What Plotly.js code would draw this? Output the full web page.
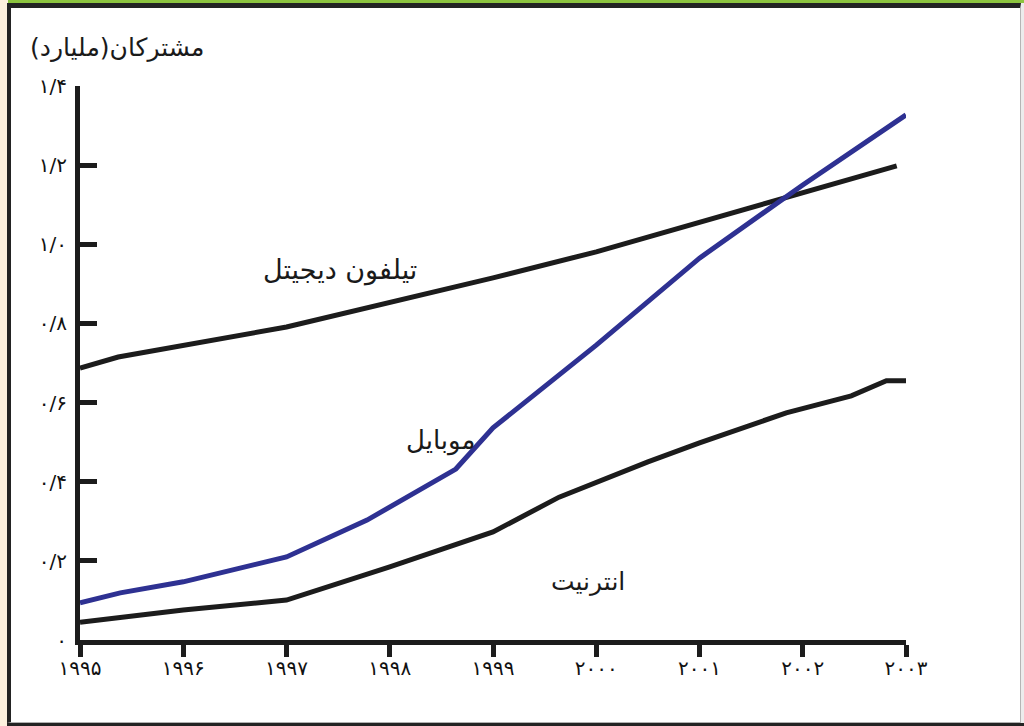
<!DOCTYPE html>
<html>
<head>
<meta charset="utf-8">
<script src="https://cdn.plot.ly/plotly-3.0.1.min.js"></script>
<style>
  html, body { margin:0; padding:0; }
  body { width:1024px; height:726px; position:relative; overflow:hidden; background:#fdf1de; }
  #green { position:absolute; left:8px; top:0; width:1016px; height:3px; background:#8cc43f; }
  #box { position:absolute; left:7px; top:3px; width:1014px; height:720px; box-sizing:border-box;
         background:#ffffff; border-top:5px solid #232323; border-left:4px solid #232323;
         border-right:1px solid #b5b5b5; border-bottom:1px solid #b0b0b0; }
  #rightstrip { position:absolute; left:1021px; top:3px; width:3px; height:720px; background:#ececec; }
  #bottom { position:absolute; left:7px; top:723px; width:1017px; height:3px; background:#232323; }
  #chart { position:absolute; left:0; top:0; width:1024px; height:726px; }
</style>
</head>
<body>
<div id="green"></div>
<div id="box"></div>
<div id="rightstrip"></div>
<div id="bottom"></div>
<div id="chart"></div>
<script>
// Digital telephone subscribers (billions)
const telYears = [1995, 1995.37, 1997, 1998, 1999, 2000, 2001, 2002, 2002.91];
const telValues = [0.687, 0.715, 0.791, 0.852, 0.915, 0.981, 1.056, 1.132, 1.198];
// Mobile subscribers
const mobYears = [1995, 1995.39, 1996, 1997, 1997.78, 1998.64, 1999, 2000, 2001, 2002, 2003];
const mobValues = [0.094, 0.119, 0.147, 0.210, 0.303, 0.432, 0.536, 0.745, 0.965, 1.15, 1.327];
// Internet subscribers
const netYears = [1995, 1996, 1997, 1998, 1999, 1999.64, 2000.5, 2001, 2001.84, 2002.47, 2002.81, 2003];
const netValues = [0.045, 0.076, 0.101, 0.185, 0.273, 0.361, 0.45, 0.498, 0.574, 0.617, 0.655, 0.655];

const xTickVals = [1995, 1996, 1997, 1998, 1999, 2000, 2001, 2002, 2003];
const xTickText = ['۱۹۹۵', '۱۹۹۶', '۱۹۹۷', '۱۹۹۸', '۱۹۹۹', '۲۰۰۰', '۲۰۰۱', '۲۰۰۲', '۲۰۰۳'];
const yTickVals = [0, 0.2, 0.4, 0.6, 0.8, 1.0, 1.2, 1.4];
const yTickText = ['۰', '۰/۲', '۰/۴', '۰/۶', '۰/۸', '۱/۰', '۱/۲', '۱/۴'];

const titleText = 'مشترکان(ملیارد)';
const telLabel = 'تیلفون دیجیتل';
const mobLabel = 'موبایل';
const netLabel = 'انترنیت';

const black = '#1c1c1c';
const blue = '#2e3192';
const arFont = 'DejaVu Sans, Noto Sans, sans-serif';

const traces = [
  { x: telYears, y: telValues, mode: 'lines', line: { color: black, width: 5 }, hoverinfo: 'skip' },
  { x: mobYears, y: mobValues, mode: 'lines', line: { color: blue, width: 5 }, hoverinfo: 'skip' },
  { x: netYears, y: netValues, mode: 'lines', line: { color: black, width: 5 }, hoverinfo: 'skip' }
];

const layout = {
  width: 1024, height: 726,
  margin: { l: 80, r: 118, t: 86, b: 86 },
  paper_bgcolor: 'rgba(0,0,0,0)',
  plot_bgcolor: 'rgba(0,0,0,0)',
  showlegend: false,
  hovermode: false,
  title: {
    text: titleText, xref: 'container', yref: 'container',
    x: 30 / 1024, xanchor: 'left', y: 1 - 47 / 726, yanchor: 'middle',
    font: { family: arFont, size: 25, color: '#1a1a1a' }
  },
  xaxis: {
    range: [1995, 2003], showgrid: false, zeroline: false,
    showline: true, linecolor: black, linewidth: 5,
    ticks: 'outside', ticklen: 12, tickwidth: 5, tickcolor: black,
    tickvals: xTickVals, ticktext: xTickText, ticklabelstandoff: -6,
    tickfont: { family: arFont, size: 20, color: '#111111' },
    fixedrange: true
  },
  xaxis2: {
    range: [1995, 2003], overlaying: 'x', anchor: 'y', side: 'bottom',
    showgrid: false, zeroline: false, showline: false,
    ticks: 'inside', ticklen: 14, tickwidth: 5, tickcolor: black,
    tickvals: xTickVals, showticklabels: false, fixedrange: true
  },
  yaxis: {
    range: [0, 1.4], showgrid: false, zeroline: false,
    showline: true, linecolor: black, linewidth: 5,
    ticks: 'inside', ticklen: 17, tickwidth: 5, tickcolor: black,
    tickvals: yTickVals, ticktext: yTickText, ticklabelstandoff: 4,
    tickfont: { family: arFont, size: 20, color: '#111111' },
    fixedrange: true
  },
  annotations: [
    { x: 1997.52, y: 0.935, xref: 'x', yref: 'y', text: telLabel, showarrow: false,
      font: { family: arFont, size: 27, color: '#1a1a1a' } },
    { x: 1998.49, y: 0.505, xref: 'x', yref: 'y', text: mobLabel, showarrow: false,
      font: { family: arFont, size: 26, color: '#1a1a1a' } },
    { x: 1999.92, y: 0.147, xref: 'x', yref: 'y', text: netLabel, showarrow: false,
      font: { family: arFont, size: 25, color: '#1a1a1a' } }
  ]
};

Plotly.newPlot('chart', traces, layout, { displayModeBar: false, staticPlot: true });
</script>
</body>
</html>
